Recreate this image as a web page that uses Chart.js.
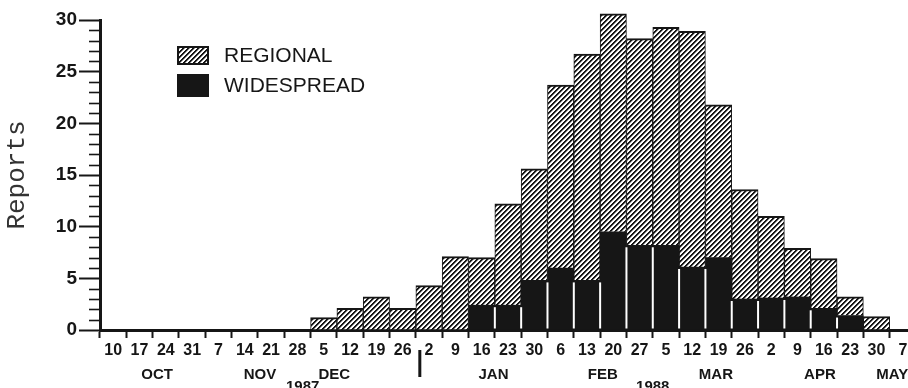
<!DOCTYPE html>
<html>
<head>
<meta charset="utf-8">
<script src="https://cdn.jsdelivr.net/npm/chart.js@4/dist/chart.umd.min.js"></script>
<style>
  html, body { margin: 0; padding: 0; background: #fff; overflow: hidden; }
  canvas { display: block; }
</style>
</head>
<body>
<canvas id="c" width="916" height="388"></canvas>
<script>
// Weekly report counts, Oct 1987 - May 1988
const weeks = ['10','17','24','31','7','14','21','28','5','12','19','26','2','9','16','23','30',
               '6','13','20','27','5','12','19','26','2','9','16','23','30','7'];
const widespread = [0,0,0,0, 0,0,0,0, 0,0,0,0, 0,0,2.4,2.4,4.8,
                    6.0,4.8,9.5,8.2, 8.2,6.1,7.0,3.0, 3.1,3.2,2.1,1.4,0, 0];
const regional   = [0,0,0,0, 0,0,0,0, 1.2,2.1,3.2,2.1, 4.3,7.1,4.6,9.8,10.8,
                    17.7,21.9,21.1,20.0, 21.1,22.8,14.8,10.6, 7.9,4.7,4.8,1.8,1.3, 0];

// Month / year captions under the week numbers (positions in week-index units)
const months  = ['OCT','NOV','DEC','JAN','FEB','MAR','APR','MAY'];
const monthAt = [1.67, 5.58, 8.4, 14.45, 18.6, 22.9, 26.85, 29.6];
const years   = ['1987','1988'];
const yearAt  = [7.2, 20.5];
const yearBreakAt = 11.65;

const INK = '#161616';
const SANS = "'Liberation Sans', Arial, Helvetica, sans-serif";

const canvas = document.getElementById('c');
const ctx = canvas.getContext('2d');

// diagonal "///" hatch used for regional reports
function makeHatch() {
  const n = 5;
  const t = document.createElement('canvas');
  t.width = n; t.height = n;
  const g = t.getContext('2d');
  g.fillStyle = '#ffffff';
  g.fillRect(0, 0, n, n);
  for (let x = 0; x < n; x++) {
    for (let y = 0; y < n; y++) {
      const k = (x + y) % n;
      if (k < 2) { g.fillStyle = INK; g.fillRect(x, y, 1, 1); }
      else if (k === 2) { g.fillStyle = '#9a9a9a'; g.fillRect(x, y, 1, 1); }
    }
  }
  return ctx.createPattern(t, 'repeat');
}
const hatch = makeHatch();

const decor = {
  id: 'decor',
  afterDatasetsDraw(chart) {
    // white separators between neighbouring solid bars
    const xs = chart.scales.x, ys = chart.scales.y;
    const c = chart.ctx;
    c.save();
    c.strokeStyle = '#ffffff';
    c.lineWidth = 2;
    for (let i = 1; i < widespread.length; i++) {
      if (widespread[i - 1] > 0 && widespread[i] > 0) {
        const x = (xs.getPixelForValue(i - 1) + xs.getPixelForValue(i)) / 2;
        const top = ys.getPixelForValue(Math.min(widespread[i - 1], widespread[i])) + 2;
        const bottom = ys.getPixelForValue(0) - 1.5;
        c.beginPath();
        c.moveTo(x, top);
        c.lineTo(x, bottom);
        c.stroke();
      }
    }
    c.restore();
  },
  afterDraw(chart) {
    const xs = chart.scales.x, ys = chart.scales.y;
    const c = chart.ctx;
    c.save();
    // minor ticks on the count axis
    c.strokeStyle = INK;
    c.lineWidth = 1.6;
    const ax = ys.right;
    for (let v = ys.min; v <= ys.max; v++) {
      if (v % 5 === 0) continue;
      const y = Math.round(ys.getPixelForValue(v)) + 0.5;
      c.beginPath();
      c.moveTo(ax - 11, y);
      c.lineTo(ax, y);
      c.stroke();
    }
    // month captions
    c.fillStyle = INK;
    c.textAlign = 'center';
    c.textBaseline = 'middle';
    c.font = 'bold 15px ' + SANS;
    months.forEach((m, i) => c.fillText(m, xs.getPixelForValue(monthAt[i]), 375));
    // year captions
    c.font = 'bold 15px ' + SANS;
    years.forEach((y, i) => c.fillText(y, xs.getPixelForValue(yearAt[i]), 387));
    // year divider
    c.lineWidth = 3;
    const bx = xs.getPixelForValue(yearBreakAt);
    c.beginPath();
    c.moveTo(bx, 350);
    c.lineTo(bx, 377);
    c.stroke();

    // legend
    const order = [chart.data.datasets[1], chart.data.datasets[0]];
    const boxes = [{y: 47, h: 17}, {y: 75, h: 21}];
    c.font = '21px ' + SANS;
    c.textAlign = 'left';
    order.forEach((ds, i) => {
      const b = boxes[i];
      c.fillStyle = ds.backgroundColor;
      c.fillRect(178, b.y, 30, b.h);
      c.strokeStyle = INK;
      c.lineWidth = 2;
      c.strokeRect(178, b.y, 30, b.h);
      c.fillStyle = INK;
      c.fillText(ds.label, 224, b.y + b.h / 2 + 1);
    });
    c.restore();
  }
};

new Chart(ctx, {
  type: 'bar',
  data: {
    labels: weeks,
    datasets: [
      {
        label: 'WIDESPREAD',
        data: widespread,
        backgroundColor: INK,
        borderWidth: 0,
        barPercentage: 1,
        categoryPercentage: 1,
        clip: false
      },
      {
        label: 'REGIONAL',
        data: regional,
        backgroundColor: hatch,
        borderColor: INK,
        borderWidth: {top: 2, left: 1, right: 1, bottom: 0},
        borderSkipped: 'start',
        barPercentage: 1,
        categoryPercentage: 1,
        clip: false
      }
    ]
  },
  options: {
    responsive: false,
    animation: false,
    layout: { padding: { top: 20, right: 0, bottom: 0, left: 0 } },
    plugins: {
      legend: { display: false },
      tooltip: { enabled: false }
    },
    scales: {
      x: {
        stacked: true,
        offset: true,
        grid: {
          offset: true,
          drawOnChartArea: false,
          drawTicks: true,
          tickLength: 8,
          tickWidth: 2,
          tickColor: INK,
          color: INK
        },
        border: { display: true, color: INK, width: 3 },
        ticks: {
          color: INK,
          font: { family: SANS, size: 16, weight: 'bold' },
          padding: 3,
          maxRotation: 0,
          autoSkip: false
        },
        afterFit(scale) { scale.height = 58; }
      },
      y: {
        stacked: true,
        min: 0,
        max: 30,
        ticks: {
          stepSize: 5,
          color: INK,
          font: { family: SANS, size: 19, weight: 'bold' },
          padding: 2
        },
        grid: {
          drawOnChartArea: false,
          tickLength: 21,
          tickWidth: 2,
          tickColor: INK
        },
        border: { display: true, color: INK, width: 3 },
        title: {
          display: true,
          text: 'Reports',
          color: '#333333',
          font: { family: "'Liberation Mono', 'Courier New', monospace", size: 26 },
          padding: { top: 2, bottom: 0 }
        },
        afterFit(scale) { scale.width = 100; }
      }
    }
  },
  plugins: [decor]
});
</script>
</body>
</html>
